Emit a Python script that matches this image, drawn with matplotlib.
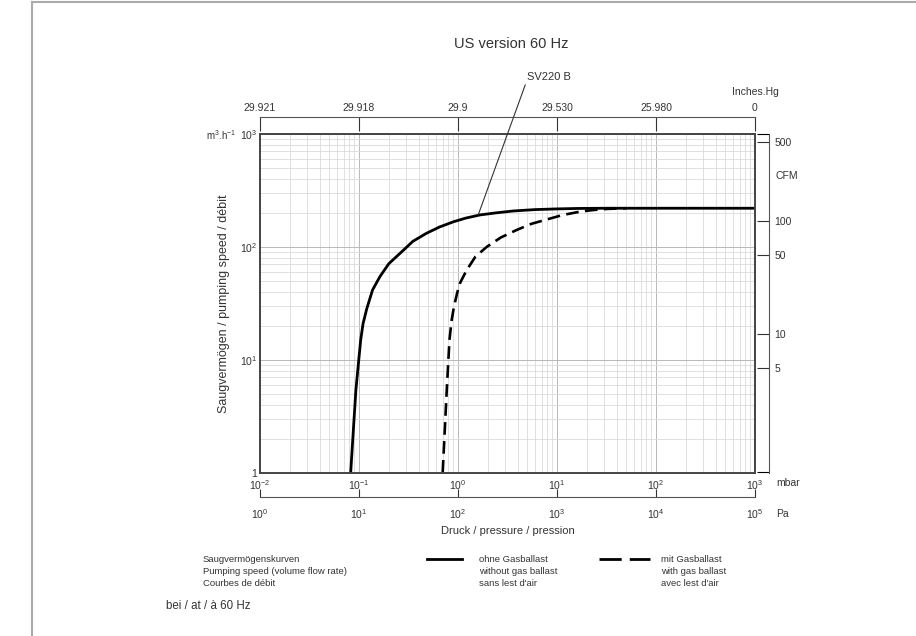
import matplotlib
matplotlib.use('Agg')
import matplotlib.pyplot as plt
from matplotlib.ticker import FixedLocator, NullFormatter, LogLocator
from matplotlib.lines import Line2D
import numpy as np

plt.rcParams['font.family'] = ['Liberation Sans', 'DejaVu Sans']
plt.rcParams['mathtext.fontset'] = 'custom'
plt.rcParams['mathtext.rm'] = 'Liberation Sans'
plt.rcParams['mathtext.it'] = 'Liberation Sans'

# pumping speed curves (pressure in mbar, speed in m3/h)
solid_p = [0.0824, 0.093, 0.104, 0.11, 0.12, 0.137, 0.15, 0.163, 0.2, 0.26, 0.35, 0.48,
           0.65, 0.90, 1.2, 1.67, 2.4, 3.6, 6, 9.9, 16, 32, 1000]
solid_s = [1, 5.4, 15, 21, 28.5, 41.5, 48, 54.7, 71, 87.8, 112, 132,
           150, 167, 180, 192, 200, 208, 214, 217, 219, 220, 220]
dashed_p = [0.70, 0.77, 0.82, 0.86, 0.91, 0.98, 1.05, 1.22, 1.5, 1.95, 2.7, 3.9,
            5.5, 7.9, 11.5, 17, 23, 32, 50]
dashed_s = [1, 5.4, 15, 22, 29.5, 39, 48, 62, 82, 100, 121, 141,
            160, 175, 192, 205, 212, 217, 220]

mbar_ticks = [1e-2, 1e-1, 1e0, 1e1, 1e2, 1e3]
inhg_labels = ['29.921', '29.918', '29.9', '29.530', '25.980', '0']
speed_ticks = [1, 10, 100, 1000]
speed_labels = ['1', r'$\mathregular{10^{1}}$', r'$\mathregular{10^{2}}$', r'$\mathregular{10^{3}}$']
cfm_ticks = [5, 10, 50, 100, 500]
m3h_per_cfm = 1.699

W, H = 916, 636
fig = plt.figure(figsize=(W / 100, H / 100), dpi=100)

# plot area in pixels
x0, x1, y0, y1 = 260, 755, 134, 472.7
ax = fig.add_axes([x0 / W, 1 - y1 / H, (x1 - x0) / W, (y1 - y0) / H])
ax.set_xscale('log')
ax.set_yscale('log')
ax.set_xlim(1e-2, 1e3)
ax.set_ylim(1, 1000)

ax.xaxis.set_minor_locator(LogLocator(base=10, subs=np.arange(1, 10) * 1.0, numticks=50))
ax.yaxis.set_minor_locator(LogLocator(base=10, subs=np.arange(1, 10) * 1.0, numticks=50))
ax.xaxis.set_minor_formatter(NullFormatter())
ax.yaxis.set_minor_formatter(NullFormatter())
ax.grid(True, which='major', color='#b8b8b8', lw=0.7)
ax.grid(True, which='minor', color='#dadada', lw=0.6)
ax.set_axisbelow(True)

for s in ax.spines.values():
    s.set_color('#444444')
    s.set_linewidth(1.4)

ax.plot(solid_p, solid_s, color='black', lw=2.0, solid_joinstyle='round')
ax.plot(dashed_p, dashed_s, color='black', lw=1.9, linestyle=(0, (4.8, 2.4)))

# mbar ticks (bottom), speed ticks (left)
ax.set_xticks(mbar_ticks)
ax.set_xticklabels([r'$\mathregular{10^{%d}}$' % e for e in range(-2, 4)])
ax.set_yticks(speed_ticks)
ax.set_yticklabels(speed_labels)
ax.tick_params(which='both', length=0, labelsize=7.5, colors='#333333')
ax.tick_params(axis='x', pad=4)
ax.tick_params(axis='y', pad=2)

ax.set_ylabel('Saugvermögen / pumping speed / débit', fontsize=9, color='#333333', labelpad=7)

# top: inches Hg bracket
top = ax.secondary_xaxis(1 + 17 / (y1 - y0))
top.set_xticks(mbar_ticks)
top.set_xticklabels(inhg_labels)
top.xaxis.set_minor_locator(FixedLocator([1e-2, 1e3]))
top.xaxis.set_minor_formatter(NullFormatter())
top.tick_params(which='major', direction='in', length=10, width=0.8, labelsize=7.5, pad=3, colors='#333333')
top.tick_params(which='minor', direction='in', length=12.5, width=0.8)
top.spines['top'].set_linewidth(0.8)
top.spines['top'].set_color('#555555')

# bottom: Pa bracket
pa = ax.secondary_xaxis(-(497 - y1) / (y1 - y0), functions=(lambda p: p * 100, lambda p: p / 100))
pa.set_xticks([1e0, 1e1, 1e2, 1e3, 1e4, 1e5])
pa.set_xticklabels([r'$\mathregular{10^{%d}}$' % e for e in range(0, 6)])
pa.xaxis.set_minor_locator(FixedLocator([]))
pa.tick_params(which='major', direction='in', length=6, width=0.8, labelsize=7.5, pad=7, colors='#333333')
pa.spines['bottom'].set_linewidth(0.8)
pa.spines['bottom'].set_color('#555555')
pa.set_xlabel('Druck / pressure / pression', fontsize=8, color='#333333', labelpad=4)

# right: CFM bracket
cfm = ax.secondary_yaxis(1 + 14 / (x1 - x0), functions=(lambda s: s / m3h_per_cfm, lambda c: c * m3h_per_cfm))
cfm.set_yticks(cfm_ticks)
cfm.set_yticklabels([str(c) for c in cfm_ticks])
cfm.yaxis.set_minor_locator(FixedLocator([1 / m3h_per_cfm * 1.02, 1000 / m3h_per_cfm]))
cfm.yaxis.set_minor_formatter(NullFormatter())
cfm.tick_params(which='major', direction='in', length=9, width=0.8, labelsize=7.5, pad=4, colors='#333333')
cfm.tick_params(which='minor', direction='in', length=9, width=0.8)
cfm.spines['right'].set_linewidth(0.8)
cfm.spines['right'].set_color('#555555')

def px(x, y):
    return x / W, 1 - y / H

txt = dict(color='#333333')
fig.text(*px(511, 44), 'US version 60 Hz', fontsize=10.5, ha='center', va='center', **txt)
fig.text(*px(755, 92), 'Inches.Hg', fontsize=7.5, ha='center', va='center', **txt)
fig.text(*px(776, 176), 'CFM', fontsize=7.5, ha='left', va='center', **txt)
fig.text(*px(776, 483), 'mbar', fontsize=7.5, ha='left', va='center', **txt)
fig.text(*px(776, 514), 'Pa', fontsize=7.5, ha='left', va='center', **txt)
fig.text(*px(236, 135), r'm$^{3}$.h$^{-1}$', fontsize=7, ha='right', va='center', **txt)

ax.annotate('SV220 B', xy=(1.6, 192), xycoords='data',
            xytext=(527, H - 77), textcoords='figure pixels',
            fontsize=8, ha='left', va='center', color='#333333',
            arrowprops=dict(arrowstyle='-', color='#333333', lw=0.8,
                            shrinkA=0, shrinkB=0, relpos=(0, 0.2)))

# legend block
fs = 6.8
for i, line in enumerate(['Saugvermögenskurven', 'Pumping speed (volume flow rate)', 'Courbes de débit']):
    fig.text(*px(203, 560 + 11.5 * i), line, fontsize=fs, va='center', **txt)
for i, line in enumerate(['ohne Gasballast', 'without gas ballast', 'sans lest d\'air']):
    fig.text(*px(479, 560 + 11.5 * i), line, fontsize=fs, va='center', **txt)
for i, line in enumerate(['mit Gasballast', 'with gas ballast', 'avec lest d\'air']):
    fig.text(*px(661, 560 + 11.5 * i), line, fontsize=fs, va='center', **txt)
fig.add_artist(Line2D([427 / W, 462 / W], [1 - 559 / H] * 2, color='black', lw=2.0))
fig.add_artist(Line2D([599 / W, 650 / W], [1 - 559 / H] * 2, color='black', lw=2.0,
                      linestyle=(0, (8, 2.9))))
fig.text(*px(166, 606), 'bei / at / à 60 Hz', fontsize=8.3, va='center', **txt)

# page frame
fig.add_artist(Line2D([32 / W, 32 / W], [0, 1 - 2 / H], color='#aaaaaa', lw=1.5))
fig.add_artist(Line2D([32 / W, 1], [1 - 2 / H] * 2, color='#aaaaaa', lw=1.5))

fig.savefig('out.png', dpi=100)
